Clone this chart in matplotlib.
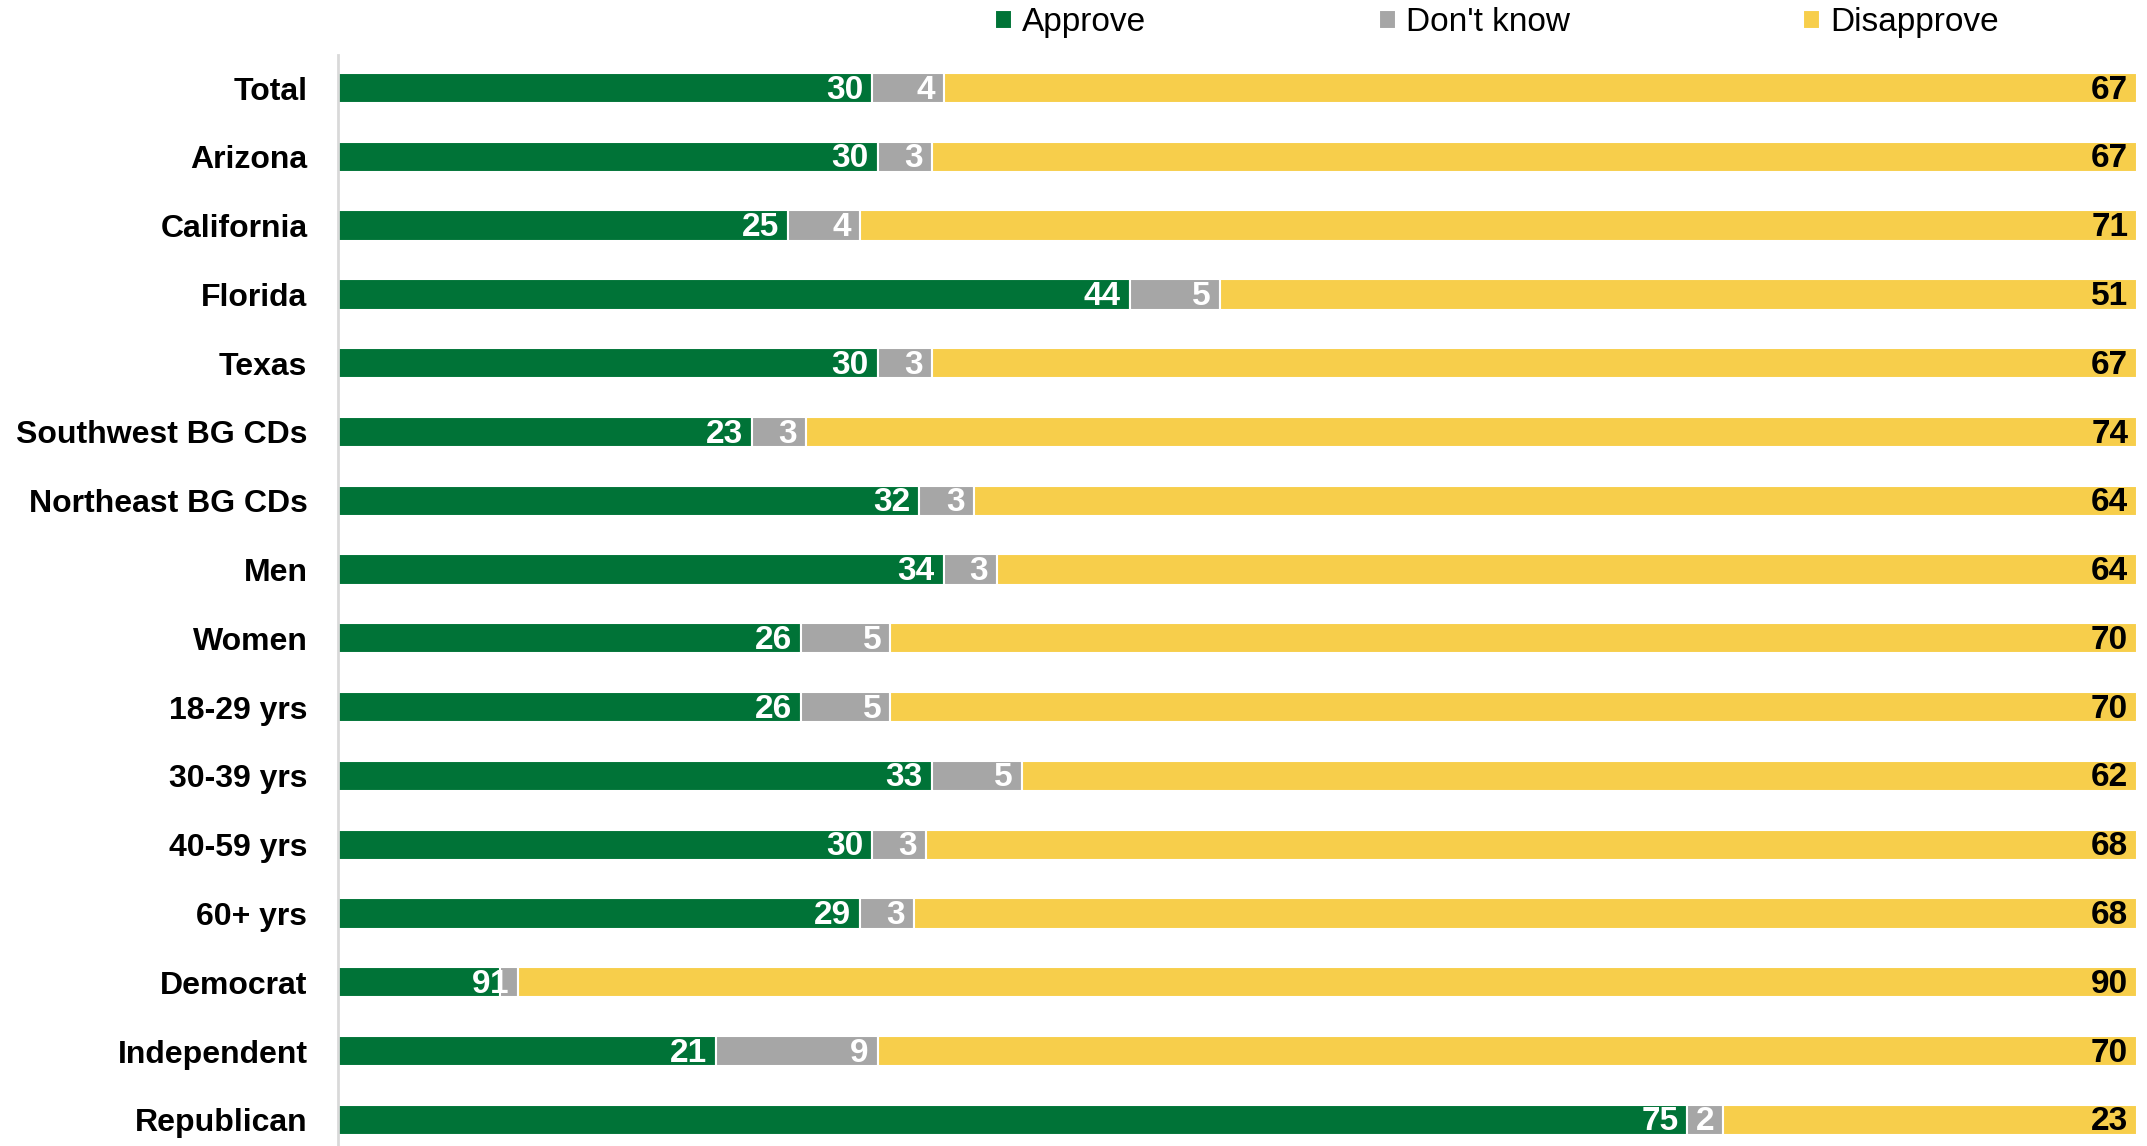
import numpy as np
import matplotlib
matplotlib.use("Agg")
import matplotlib.pyplot as plt

# Data
categories = ["Total", "Arizona", "California", "Florida", "Texas",
              "Southwest BG CDs", "Northeast BG CDs", "Men", "Women",
              "18-29 yrs", "30-39 yrs", "40-59 yrs", "60+ yrs",
              "Democrat", "Independent", "Republican"]
approve = [30, 30, 25, 44, 30, 23, 32, 34, 26, 26, 33, 30, 29, 9, 21, 75]
dont_know = [4, 3, 4, 5, 3, 3, 3, 3, 5, 5, 5, 3, 3, 1, 9, 2]
disapprove = [67, 67, 71, 51, 67, 74, 64, 64, 70, 70, 62, 68, 68, 90, 70, 23]

series_names = ["Approve", "Don't know", "Disapprove"]
colors = ["#007337", "#A6A6A6", "#F7CE4B"]
label_colors = ["white", "white", "black"]

plt.rcParams['font.family'] = ['Liberation Sans', 'DejaVu Sans']

vals = np.array([approve, dont_know, disapprove], dtype=float)
shares = vals / vals.sum(axis=0) * 100

fig = plt.figure(figsize=(21.47, 11.46), dpi=100)
ax = fig.add_axes([0.1574, 0.0, 0.838, 0.952])

y = np.arange(len(categories))
left = np.zeros(len(categories))
for i in range(3):
    bars = ax.barh(y, shares[i], left=left, height=0.44, color=colors[i],
                   edgecolor="white", linewidth=1.5, label=series_names[i])
    for j, b in enumerate(bars):
        x_end = left[j] + shares[i][j]
        ax.text(x_end - 0.5, y[j] + 0.03, "%d" % vals[i][j], ha="right",
                va="center", color=label_colors[i], fontsize=24,
                fontweight="bold")
    left = left + shares[i]

ax.set_xlim(0, 100)
ax.set_ylim(15.38, -0.48)
ax.set_yticks(y)
ax.set_yticklabels(categories, fontsize=23, fontweight="bold")
ax.tick_params(axis="y", length=0, pad=22)
ax.set_xticks([])
for s in ["top", "right", "bottom"]:
    ax.spines[s].set_visible(False)
ax.spines["left"].set_color("#D9D9D9")
ax.spines["left"].set_linewidth(2)

fig.legend(loc="upper left", bbox_to_anchor=(0.4495, 1.02), ncol=3,
           frameon=False, handlelength=0.5, handleheight=0.5,
           handletextpad=0.3, columnspacing=7.0,
           prop={"size": 24})

fig.savefig("out.png", dpi=100)
